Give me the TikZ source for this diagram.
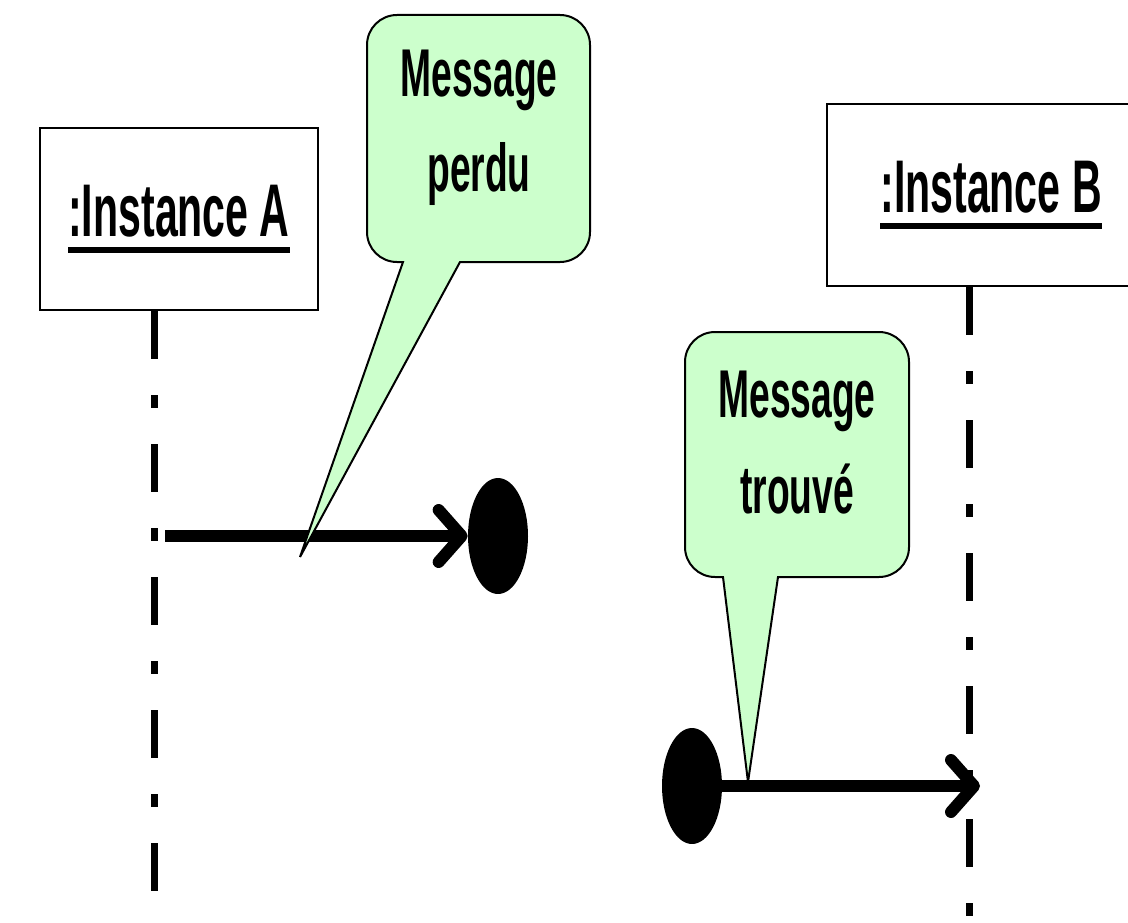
\documentclass[tikz,border=0pt]{standalone}
\usepackage{fontspec}
\usetikzlibrary{shapes.geometric,arrows.meta}

\newfontfamily\umlfont{Liberation Sans}[FakeStretch=0.55]
\definecolor{notegreen}{RGB}{204,255,204}
\newcommand\ulname[1]{\setbox0=\hbox{#1}\rlap{\copy0}\rule[-9.1pt]{\wd0}{3.4pt}}

\tikzset{
	instbox/.style={draw, line width=0.05cm,
		minimum height=3.64cm,
		font=\umlfont\bfseries\fontsize{42.5}{51}\selectfont},
	lifeline/.style={line width=0.14cm,
		dash pattern=on 0.96cm off 0.72cm on 0.26cm off 0.72cm},
	msg/.style={line width=0.24cm,
		-{Straight Barb[length=0.46cm,width=1.04cm,round]}},
	endpoint/.style={ellipse, fill, inner sep=0,
		minimum width=1.2cm, minimum height=2.32cm},
	note/.style={fill=notegreen, draw, line width=0.04cm},
	notetext/.style={align=center, inner sep=0,
		font=\umlfont\bfseries\fontsize{38.5}{54.6}\selectfont}
}

\begin{document}
\begin{tikzpicture}[x=0.02cm, y=-0.02cm]
		
		\useasboundingbox (0,0) rectangle (1128,922);
		\clip (0,0) rectangle (1128,922);
		
		% Instance A
		\node [instbox,
		minimum width=5.56cm] (instA) at (179,219) {\ulname{:Instance A}};
		
		\coordinate (endA) at (154.5,922);
		
		\draw [lifeline] (endA |- instA.south) -- (endA);
		
		% Instance B
		\node [instbox,
		minimum width=6.56cm] (instB) at (991,195) {\ulname{:Instance B}};
		
		\coordinate (endB) at (969.5,922);
		
		\draw [lifeline] (endB |- instB.south) -- (endB);
		
		% lost message
		\node [endpoint] (lost) at (498,536) {};
		
		\coordinate (fromA) at (165,536);
		
		\draw [msg] (fromA) -- (lost);
		
		% found message
		\node [endpoint] (found) at (692,786) {};
		
		\coordinate (toB) at (980,786);
		
		\draw [msg] (found) -- (toB);
		
		% Notes
		\filldraw [note] (300,557) -- (403,262) [rounded corners=0.6cm] -- (367,262) -- (367,15) -- (590,15) -- (590,262) [sharp corners] -- (460,262) -- cycle;
		
		\node [notetext, anchor=base] (perdu) at (479,192) {Message\\perdu};
		
		\filldraw [note] (748,782) -- (723,577) [rounded corners=0.6cm] -- (685,577) -- (685,332) -- (909,332) -- (909,577) [sharp corners] -- (778,577) -- cycle;
		
		\node [notetext, anchor=base] (trouve) at (797,513) {Message\\trouvé};
		
	\end{tikzpicture}
\end{document}
